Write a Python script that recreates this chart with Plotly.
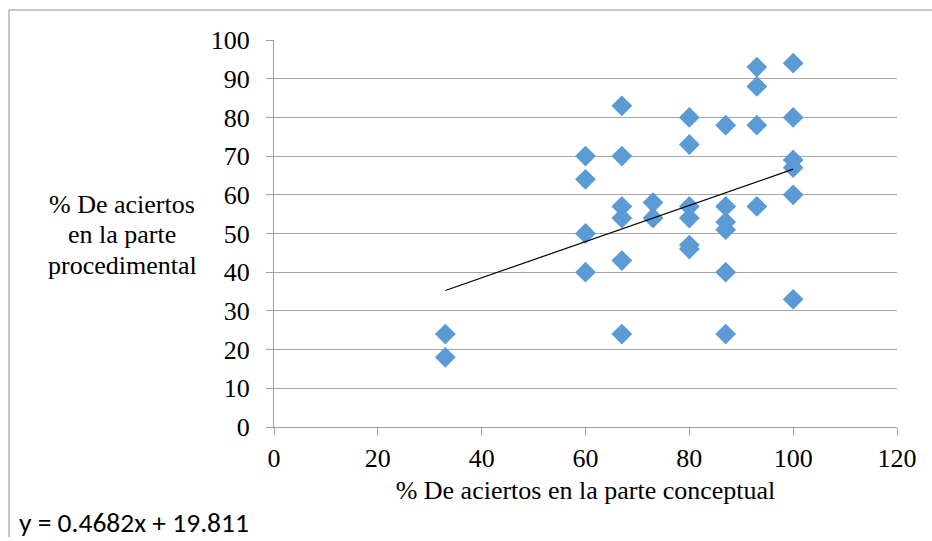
import plotly.graph_objects as go

# Data
conceptual = [33, 33,
              60, 60, 60, 60,
              67, 67, 67, 67, 67, 67,
              73, 73,
              80, 80, 80, 80, 80, 80,
              87, 87, 87, 87, 87, 87,
              93, 93, 93, 93,
              100, 100, 100, 100, 100, 100]
procedimental = [24, 18,
                 70, 64, 50, 40,
                 83, 70, 57, 54, 43, 24,
                 58, 54,
                 80, 73, 57, 54, 47, 46,
                 78, 57, 53, 51, 40, 24,
                 93, 88, 78, 57,
                 94, 80, 69, 67, 60, 33]
slope = 0.4682
intercept = 19.811
x_ticks = [0, 20, 40, 60, 80, 100, 120]
y_ticks = [0, 10, 20, 30, 40, 50, 60, 70, 80, 90, 100]
y_title_lines = ["% De aciertos", "en la parte", "procedimental"]

W, H = 932, 541
L, R, T, B = 274, 35, 40, 114
pw, ph = W - L - R, H - T - B

serif = "Liberation Serif, Times New Roman, serif"
FS = 26
fig = go.Figure()
fig.add_trace(go.Scatter(
    x=conceptual, y=procedimental, mode="markers",
    marker=dict(symbol="diamond", size=16, color="#5B9BD5", line=dict(width=0)),
    showlegend=False, hoverinfo="x+y"))
xmin, xmax = min(conceptual), max(conceptual)
fig.add_trace(go.Scatter(
    x=[xmin, xmax], y=[slope * xmin + intercept, slope * xmax + intercept],
    mode="lines", line=dict(color="black", width=1.2), showlegend=False))

fig.update_layout(
    width=W, height=H, margin=dict(l=L, r=R, t=T, b=B, pad=0),
    paper_bgcolor="white", plot_bgcolor="white",
    font=dict(family=serif, size=FS, color="black"),
    xaxis=dict(range=[0, 120], tickvals=x_ticks, showgrid=False, zeroline=False,
               showline=True, linecolor="#9e9e9e", linewidth=1,
               ticks="outside", ticklen=7, tickcolor="#9e9e9e",
               ticklabelstandoff=1,
               tickfont=dict(family=serif, size=FS, color="black"),
               title=dict(text="% De aciertos en la parte conceptual",
                          font=dict(family=serif, size=FS, color="black"), standoff=8)),
    yaxis=dict(range=[0, 100], tickvals=y_ticks, showgrid=True, gridcolor="#a6a6a6",
               gridwidth=1, zeroline=False,
               showline=True, linecolor="#9e9e9e", linewidth=1,
               ticks="outside", ticklen=7, tickcolor="#9e9e9e",
               ticklabelstandoff=11,
               tickfont=dict(family=serif, size=FS, color="black")),
)

for i, line in enumerate(y_title_lines):
    ypix = 204 + 30.5 * i
    fig.add_annotation(text=line, xref="paper", yref="paper",
                       x=(122 - L) / pw, y=(H - B - ypix) / ph,
                       xanchor="center", yanchor="middle", showarrow=False,
                       font=dict(family=serif, size=FS, color="black"))
fig.add_annotation(text="y = 0.4682x + 19.811",
                   xref="paper", yref="paper",
                   x=(17 - L) / pw, y=(H - B - 522) / ph,
                   xanchor="left", yanchor="middle", showarrow=False,
                   font=dict(family="Carlito, Lato, Liberation Sans", size=27.5, color="black"))

# outer chart border (left and top)
bx = (9 - L) / pw
by = 1 + (T - 10) / ph
fig.add_shape(type="line", xref="paper", yref="paper", x0=bx, x1=bx, y0=by, y1=(H - B - 537) / ph,
              line=dict(color="#8c8c8c", width=1))
fig.add_shape(type="line", xref="paper", yref="paper", x0=bx, x1=1 + (R + 5) / pw, y0=by, y1=by,
              line=dict(color="#8c8c8c", width=1))

fig.write_html("out.html")
